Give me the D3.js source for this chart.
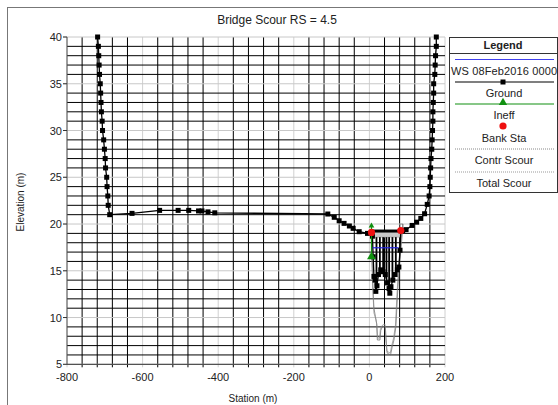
<!DOCTYPE html>
<html>
<head>
<meta charset="utf-8">
<script src="https://cdn.jsdelivr.net/npm/d3@7"></script>
<style>
  body { margin: 0; background: #fff; }
  svg text { font-family: "Liberation Sans", Arial, sans-serif; fill: #222; }
</style>
</head>
<body>
<div id="app"></div>
<script>
// ground profile (station m, elevation m)
var groundStation = [-719,-717,-716,-715,-714,-712,-711,-710,-709,-707,-706,-703,-701,-699,-698,-695,-694,-692,-691,
  -687,-628,-555,-506,-478,-452,-443,-427,-409,-110,-93,-80,-67,-53,-43,-27,-5,5.5,
  8,10,12,15,17,20,24,30,36,42,48,52,54,57,62,68,74,78,81,83,
  88,97,113,125,136,146,153,
  158,160,161,162,163,165,166,167,168,168,169,170,170,173,174,175,177,177];
var groundElev = [40,39,38,37,36,35,34,33,32,31,30,29,28,27,26,25,24,23,22,
  21.0,21.14,21.46,21.46,21.46,21.4,21.4,21.3,21.2,21.07,20.72,20.35,20.07,19.79,19.54,19.18,19.0,19.1,
  18.7,16.5,14.4,14.0,12.8,13.4,14.6,15.1,14.9,14.6,13.7,13.1,12.6,13.3,14.0,14.6,15.1,15.4,17.2,19.3,
  19.3,19.4,19.85,20.2,20.6,21.1,22.1,
  23,24,25,26,27,28,29,30,31,32,33,34,35,36,37,38,39,40];

var contrStation = [5,6.6,9,12,16,19,21,28,30,34,42,45,47,56,60,65,70,74,78,84,87,88];
var contrElev    = [19.1,16.5,13.5,11,10.1,9.4,7.6,7.6,8.6,9.0,9.1,7.2,6.2,6.0,6.8,7.6,9.0,12.2,15,17.5,19.0,20.0];
var totalStation = [5,7,9,12,17,20,22,27,29,35,41,44,46,55,59,64,69,73,77,83,86];
var totalElev    = [19.1,16.0,13.0,10.5,9.8,9.2,7.8,7.8,8.8,9.2,9.3,7.4,6.4,6.2,7.0,7.8,9.2,12.5,15.2,17.8,19.1];

var deckStation = [9, 84];
var deckTop = 19.25, deckLow = 18.6;
var pierStation = [18.7, 27.7, 36.4, 45.1, 52.2, 60.9, 69.9];
var abutStation = [81, 81, 89, 89];
var abutElev = [19.1, 20.0, 20.0, 19.1];

var wsStation = [8, 77], wsElev = [17.46, 17.46];
var ineffStation = [5.5, 5.5], ineffElev = [19.8, 16.5];
var bankStation = [5.5, 83], bankElev = [19.1, 19.3];

var xTicks = [-800, -600, -400, -200, 0, 200];
var yTicks = [5, 10, 15, 20, 25, 30, 35, 40];
var legendLabels = ["WS 08Feb2016 0000", "Ground", "Ineff", "Bank Sta", "Contr Scour", "Total Scour"];

var width = 558, height = 405;
var svg = d3.select("#app").append("svg").attr("width", width).attr("height", height);

// outer frame
svg.append("rect").attr("x", 7.5).attr("y", 7.5).attr("width", 620).attr("height", 500)
  .attr("fill", "none").attr("stroke", "#777");

var x = d3.scaleLinear().domain([-800, 200]).range([67, 445]);
var y = d3.scaleLinear().domain([5, 40]).range([364.3, 37]);

// grid
var g = svg.append("g");
var vLines = d3.range(-800, 201, 40);
var hLines = d3.range(5, 41, 1);
g.selectAll(".vg").data(vLines).enter().append("line")
  .attr("x1", d => x(d)).attr("x2", d => x(d)).attr("y1", y(40)).attr("y2", y(5) + 3)
  .attr("stroke", d => d % 200 === 0 ? "#d0d0d0" : "#000").attr("stroke-width", 1);
g.selectAll(".hg").data(hLines).enter().append("line")
  .attr("x1", d => d % 5 === 0 ? x(-800) - 4 : x(-800)).attr("x2", x(200)).attr("y1", d => y(d)).attr("y2", d => y(d))
  .attr("stroke", d => d % 5 === 0 ? "#c8c8c8" : "#000").attr("stroke-width", 1);
// axis lines
g.append("line").attr("x1", x(-800)).attr("x2", x(-800)).attr("y1", y(40)).attr("y2", y(5)).attr("stroke", "#555");
g.append("line").attr("x1", x(-800)).attr("x2", x(200)).attr("y1", y(5)).attr("y2", y(5)).attr("stroke", "#333");
g.selectAll(".yt").data(yTicks).enter().append("line")
  .attr("x1", x(-800) - 4).attr("x2", x(-800)).attr("y1", d => y(d)).attr("y2", d => y(d)).attr("stroke", "#333");

// tick labels
svg.selectAll(".xl").data(xTicks).enter().append("text")
  .attr("x", d => x(d)).attr("y", 381).attr("text-anchor", "middle").attr("font-size", 11).text(d => d);
svg.selectAll(".yl").data(yTicks).enter().append("text")
  .attr("x", 62).attr("y", d => y(d) + 4).attr("text-anchor", "end").attr("font-size", 11).text(d => d);

svg.append("text").attr("x", 277).attr("y", 24).attr("text-anchor", "middle").attr("font-size", 12)
  .text("Bridge Scour RS = 4.5");
svg.append("text").attr("x", 253).attr("y", 402).attr("text-anchor", "middle").attr("font-size", 10)
  .text("Station (m)");
svg.append("text").attr("transform", "translate(24,202) rotate(-90)").attr("text-anchor", "middle")
  .attr("font-size", 10).text("Elevation (m)");

var line = d3.line().x(d => x(d[0])).y(d => y(d[1]));
var ground = groundStation.map((s, i) => [s, groundElev[i]]);

// bridge deck
svg.append("rect").attr("x", x(deckStation[0])).attr("y", y(deckTop))
  .attr("width", x(deckStation[1]) - x(deckStation[0])).attr("height", y(deckLow) - y(deckTop))
  .attr("fill", "#c8c8c8").attr("stroke", "#999").attr("stroke-width", 0.6);
svg.append("line").attr("x1", x(deckStation[0])).attr("x2", x(deckStation[1]))
  .attr("y1", y(deckTop)).attr("y2", y(deckTop)).attr("stroke", "#000").attr("stroke-width", 3);
svg.append("path").attr("d", line(abutStation.map((s, i) => [s, abutElev[i]])))
  .attr("fill", "none").attr("stroke", "#888").attr("stroke-width", 0.8);

// scour lines
svg.append("path").attr("d", line(contrStation.map((s, i) => [s, contrElev[i]])))
  .attr("fill", "none").attr("stroke", "#666").attr("stroke-width", 0.7);
svg.append("path").attr("d", line(totalStation.map((s, i) => [s, totalElev[i]])))
  .attr("fill", "none").attr("stroke", "#888").attr("stroke-width", 0.7);

// piers down to ground
function groundAt(s) {
  for (var i = 1; i < ground.length; i++) {
    var a = ground[i - 1], b = ground[i];
    if (a[0] <= s && b[0] >= s && b[0] > a[0]) return a[1] + (b[1] - a[1]) * (s - a[0]) / (b[0] - a[0]);
  }
  return deckLow;
}
svg.selectAll(".pier").data(pierStation).enter().append("line")
  .attr("x1", d => x(d)).attr("x2", d => x(d)).attr("y1", y(deckLow)).attr("y2", d => y(groundAt(d)))
  .attr("stroke", "#000").attr("stroke-width", 1.8);

// ground
svg.append("path").attr("d", line(ground)).attr("fill", "none").attr("stroke", "#000").attr("stroke-width", 1.3);
svg.selectAll(".gm").data(ground).enter().append("rect")
  .attr("x", d => x(d[0]) - 2.5).attr("y", d => y(d[1]) - 2.5).attr("width", 5).attr("height", 5).attr("fill", "#000");

// water surface
svg.append("path").attr("d", line(wsStation.map((s, i) => [s, wsElev[i]])))
  .attr("stroke", "#2020e0").attr("stroke-width", 1.2).attr("fill", "none");

// ineffective
svg.append("path").attr("d", line(ineffStation.map((s, i) => [s, ineffElev[i]])))
  .attr("stroke", "#109010").attr("stroke-width", 1.2).attr("fill", "none");
var tri = d3.symbol().type(d3.symbolTriangle).size(30);
svg.selectAll(".im").data(ineffStation.map((s, i) => [s, ineffElev[i]])).enter().append("path")
  .attr("d", (d, i) => d3.symbol().type(d3.symbolTriangle).size(i === 0 ? 14 : 34)())
  .attr("transform", d => "translate(" + x(d[0]) + "," + y(d[1]) + ")").attr("fill", "#109010");

// bank stations
svg.selectAll(".bk").data(bankStation.map((s, i) => [s, bankElev[i]])).enter().append("circle")
  .attr("cx", d => x(d[0])).attr("cy", d => y(d[1])).attr("r", 3.6).attr("fill", "#ee1010");

// legend
var lg = svg.append("g");
var lx0 = 449, lx1 = 557, lcx = 503;
lg.append("rect").attr("x", lx0 + 0.5).attr("y", 37.5).attr("width", lx1 - lx0).attr("height", 155)
  .attr("fill", "#fff").attr("stroke", "#333");
lg.append("text").attr("x", lcx).attr("y", 49).attr("text-anchor", "middle").attr("font-size", 11)
  .attr("font-weight", "bold").text("Legend");
lg.append("line").attr("x1", lx0).attr("x2", lx1 + 1).attr("y1", 53.5).attr("y2", 53.5).attr("stroke", "#333");

var sampleY = [59.5, 82, 104, 126, 149, 172];
var labelY = [75, 97, 119, 142, 164, 187];
var sx0 = 455, sx1 = 554;
lg.selectAll(".lt").data(legendLabels).enter().append("text")
  .attr("x", lcx + 1).attr("y", (d, i) => labelY[i]).attr("text-anchor", "middle").attr("font-size", 11)
  .attr("textLength", (d, i) => i === 0 ? 106 : null).text(d => d);
lg.append("line").attr("x1", sx0).attr("x2", sx1).attr("y1", sampleY[0]).attr("y2", sampleY[0])
  .attr("stroke", "#4040ee").attr("stroke-width", 1.2);
lg.append("line").attr("x1", sx0).attr("x2", sx1).attr("y1", sampleY[1]).attr("y2", sampleY[1])
  .attr("stroke", "#000").attr("stroke-width", 1.2);
lg.append("rect").attr("x", lcx - 2.5).attr("y", sampleY[1] - 2.5).attr("width", 5).attr("height", 5).attr("fill", "#000");
lg.append("line").attr("x1", sx0).attr("x2", sx1).attr("y1", sampleY[2]).attr("y2", sampleY[2])
  .attr("stroke", "#109010").attr("stroke-width", 1.2);
lg.append("path").attr("d", tri()).attr("transform", "translate(" + lcx + "," + (sampleY[2] - 1.5) + ")").attr("fill", "#109010");
lg.append("circle").attr("cx", lcx).attr("cy", sampleY[3]).attr("r", 3.6).attr("fill", "#ee1010");
lg.append("line").attr("x1", sx0).attr("x2", sx1).attr("y1", sampleY[4]).attr("y2", sampleY[4])
  .attr("stroke", "#888").attr("stroke-width", 1).attr("stroke-dasharray", "1,1");
lg.append("line").attr("x1", sx0).attr("x2", sx1).attr("y1", sampleY[5]).attr("y2", sampleY[5])
  .attr("stroke", "#999").attr("stroke-width", 1).attr("stroke-dasharray", "1,1");
</script>
</body>
</html>
